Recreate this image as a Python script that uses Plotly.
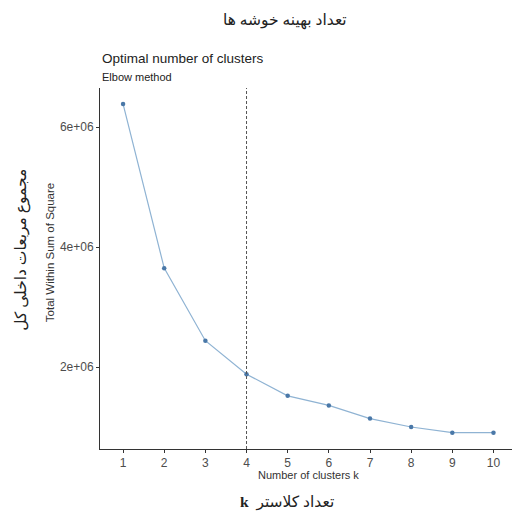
import plotly.graph_objects as go

k_values = [1, 2, 3, 4, 5, 6, 7, 8, 9, 10]
wss_values = [6.39e6, 3.65e6, 2.44e6, 1.88e6, 1.52e6, 1.36e6, 1.14e6, 1.0e6, 0.905e6, 0.905e6]
optimal_k = 4
y_tick_vals = [2e6, 4e6, 6e6]
y_tick_text = ["2e+06", "4e+06", "6e+06"]

fig = go.Figure()
fig.add_trace(go.Scatter(
    x=k_values, y=wss_values, mode="lines+markers",
    line=dict(color="#8fb3d3", width=1.2),
    marker=dict(color="#4a78a8", size=4.5),
    showlegend=False, hoverinfo="skip"))

fig.add_vline(x=optimal_k, line=dict(color="#555555", width=1, dash="3px,2px"))

axis_font = dict(family="Liberation Sans, Arial", size=12, color="#4d4d4d")
fig.update_layout(
    width=516, height=513,
    margin=dict(l=100, r=4, t=88, b=64),
    plot_bgcolor="white", paper_bgcolor="white",
    xaxis=dict(range=[0.44, 10.45], tickvals=k_values, ticktext=[str(v) for v in k_values],
               showgrid=False, zeroline=False, showline=True, linecolor="#333333", linewidth=1,
               ticks="outside", ticklen=3, tickcolor="#333333", tickfont=axis_font),
    yaxis=dict(range=[0.633e6, 6.655e6], tickvals=y_tick_vals, ticktext=y_tick_text,
               showgrid=False, zeroline=False, showline=True, linecolor="#333333", linewidth=1,
               ticks="outside", ticklen=3, tickcolor="#333333", tickfont=axis_font),
)

serif = "Liberation Serif, Times New Roman, DejaVu Sans"
sans = "Liberation Sans, Arial"
annotations = [
    dict(text="تعداد بهینه خوشه ها", x=0.449, y=1.188, xanchor="center", yanchor="middle",
         font=dict(family=serif, size=15.5, color="#222222")),
    dict(text="Optimal number of clusters", x=0, y=1.083, xanchor="left", yanchor="middle",
         font=dict(family=sans, size=13.5, color="#222222")),
    dict(text="Elbow method", x=0, y=1.030, xanchor="left", yanchor="middle",
         font=dict(family=sans, size=11, color="#222222")),
    dict(text="Total Within Sum of Square", x=-0.121, y=0.543, xanchor="center", yanchor="middle",
         textangle=-90, font=dict(family=sans, size=11.5, color="#333333")),
    dict(text="مجموع مربعات داخلی کل", x=-0.189, y=0.552, xanchor="center", yanchor="middle",
         textangle=-90, font=dict(family=serif, size=15.5, color="#222222")),
    dict(text="Number of clusters k", x=0.505, y=-0.071, xanchor="center", yanchor="middle",
         font=dict(family=sans, size=11, color="#333333")),
    dict(text="<b>k</b>  تعداد کلاستر", x=0.454, y=-0.148, xanchor="center", yanchor="middle",
         font=dict(family=serif, size=15.5, color="#222222")),
]
for a in annotations:
    a.update(xref="paper", yref="paper", showarrow=False)
    fig.add_annotation(**a)

fig.write_html("out.html", config={"displayModeBar": False},
               post_script="document.body.style.margin='0';document.body.style.overflow='hidden';")
